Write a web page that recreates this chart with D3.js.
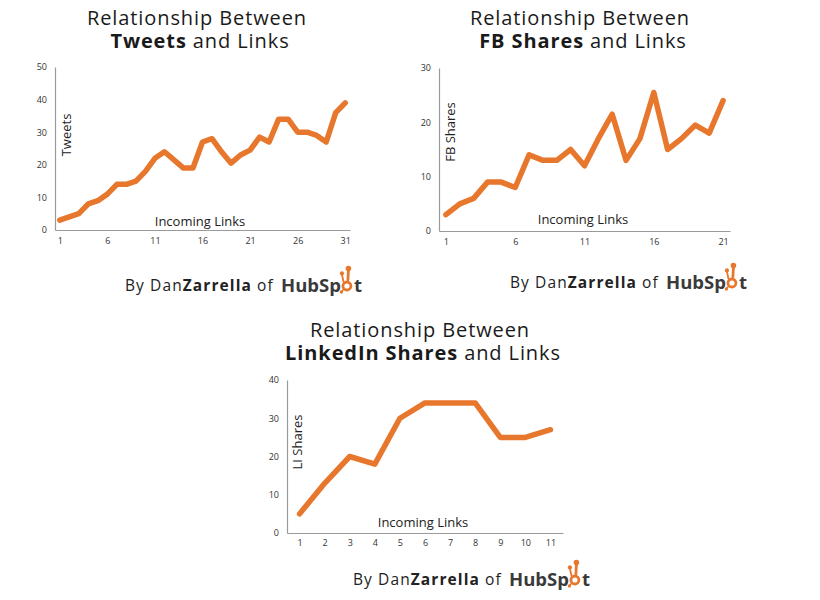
<!DOCTYPE html>
<html><head><meta charset="utf-8">
<script src="https://cdn.jsdelivr.net/npm/d3@7"></script>
<style>body{margin:0;background:#fff}svg{display:block}</style>
</head><body>
<svg id="c" width="820" height="600"></svg>
<script>
// ---- data ----
const tweetsLinks = [1,2,3,4,5,6,7,8,9,10,11,12,13,14,15,16,17,18,19,20,21,22,23,24,25,26,27,28,29,30,31];
const tweetsValues = [3,4,5,8,9,11,14,14,15,18,22,24,21.5,19,19,27,28,24,20.5,23,24.5,28.5,27,34,34,30,30,29,27,36,39];
const tweetsXTicks = [1,6,11,16,21,26,31];
const tweetsYTicks = [0,10,20,30,40,50];

const fbLinks = [1,2,3,4,5,6,7,8,9,10,11,12,13,14,15,16,17,18,19,20,21];
const fbValues = [3,5,6,9,9,8,14,13,13,15,12,17,21.5,13,17,25.5,15,17,19.5,18,24];
const fbXTicks = [1,6,11,16,21];
const fbYTicks = [0,10,20,30];

const liLinks = [1,2,3,4,5,6,7,8,9,10,11];
const liValues = [5,13,20,18,30,34,34,34,25,25,27];
const liXTicks = [1,2,3,4,5,6,7,8,9,10,11];
const liYTicks = [0,10,20,30,40];

const titleLine1 = "Relationship Between";
const credit = ["By Dan", "Zarrella", " of"];
const brand = ["HubSp", "t"];

const ORANGE = "#e8772e";
const FONT = "'Open Sans', 'DejaVu Sans', sans-serif";
const svg = d3.select("#c");

function panel(o) {
  const g = svg.append("g");
  const x = d3.scalePoint().domain(o.links).range([o.x0, o.x1]).padding(0.5);
  const y = d3.scaleLinear().domain([0, o.yMax]).range([o.yb, o.yt]);

  // title
  g.append("text").attr("x", o.tc).attr("y", o.ty).attr("text-anchor", "middle")
    .attr("font-family", FONT).attr("font-size", 20).attr("letter-spacing", 0.9).attr("fill", "#1a1a1a")
    .text(titleLine1);
  const t2 = g.append("text").attr("x", o.tc2).attr("y", o.ty + 22.5).attr("text-anchor", "middle")
    .attr("font-family", FONT).attr("font-size", 20).attr("letter-spacing", 0.9).attr("fill", "#1a1a1a");
  t2.append("tspan").attr("font-weight", 700).text(o.bold);
  t2.append("tspan").text(" and Links");

  // axes
  const ya = g.append("g").attr("transform", `translate(${o.x0},0)`)
    .call(d3.axisLeft(y).tickValues(o.yTicks).tickSize(0).tickPadding(8).tickSizeOuter(0));
  ya.select(".domain").attr("stroke", "#9a9a9a").attr("stroke-width", 1.2);
  ya.selectAll("text").attr("font-family", FONT).attr("font-size", 9).attr("fill", "#333");

  const xa = g.append("g").attr("transform", `translate(0,${o.yb})`)
    .call(d3.axisBottom(x).tickValues(o.xTicks).tickSize(0).tickPadding(o.xpad || 8).tickSizeOuter(0));
  xa.select(".domain").attr("stroke", "#9a9a9a").attr("stroke-width", 1.2);
  xa.selectAll("text").attr("font-family", FONT).attr("font-size", 9).attr("fill", "#333");

  // axis titles
  g.append("text").attr("transform", `translate(${o.ylx},${o.yly}) rotate(-90)`)
    .attr("text-anchor", "middle").attr("font-family", FONT).attr("font-size", 13).attr("fill", "#222")
    .text(o.yLabel);
  g.append("text").attr("x", o.xlx).attr("y", o.xly).attr("text-anchor", "middle")
    .attr("font-family", FONT).attr("font-size", 13).attr("fill", "#222").text("Incoming Links");

  // line
  const line = d3.line().x((d, i) => x(o.links[i])).y(d => y(d));
  g.append("path").datum(o.values).attr("d", line).attr("fill", "none")
    .attr("stroke", ORANGE).attr("stroke-width", 5.5).attr("stroke-linejoin", "round").attr("stroke-linecap", "round");

  // credit
  const c = g.append("text").attr("x", o.cx).attr("y", o.cy)
    .attr("font-family", FONT).attr("font-size", 15.5).attr("letter-spacing", 1.1).attr("fill", "#222");
  c.append("tspan").text(credit[0]);
  c.append("tspan").attr("font-weight", 700).text(credit[1]);
  c.append("tspan").text(credit[2]);
  const bx = o.cx + 156;
  const b = g.append("text").attr("x", bx).attr("y", o.cy + 1)
    .attr("font-family", FONT).attr("font-size", 18.5).attr("font-weight", 700).attr("fill", "#3a3a3a");
  b.append("tspan").text(brand[0]);
  const bw = b.node().getComputedTextLength();
  const ox = bx + bw + 6, oy = o.cy - 5;
  const s = g.append("g").attr("stroke", ORANGE).attr("fill", "none").attr("stroke-linecap", "round");
  s.append("circle").attr("cx", ox).attr("cy", oy).attr("r", 4).attr("stroke-width", 2.8);
  // stem + spokes with end dots
  [[1, -6, 1.5, -16, 2.8, 2.8], [-3.5, -4.5, -5, -11.5, 2.1, 1.8], [-3.8, 3.8, -5.5, 6, 1.7, 1.6]].forEach(([x1, y1, x2, y2, r, w]) => {
    s.append("line").attr("x1", ox + x1).attr("y1", oy + y1).attr("x2", ox + x2).attr("y2", oy + y2).attr("stroke-width", w);
    s.append("circle").attr("cx", ox + x2).attr("cy", oy + y2 - (y2 < 0 ? r * 0.5 : 0)).attr("r", r)
      .attr("fill", ORANGE).attr("stroke", "none");
  });
  b.append("tspan").attr("dx", 13).text(brand[1]);
}

panel({links: tweetsLinks, values: tweetsValues, xTicks: tweetsXTicks, yTicks: tweetsYTicks, yMax: 50,
  x0: 55, x1: 350, yb: 230, yt: 67, tc: 197, tc2: 200, ty: 25, bold: "Tweets", yLabel: "Tweets",
  ylx: 71, yly: 135, xlx: 200, xly: 226, cx: 125, cy: 291});
panel({links: fbLinks, values: fbValues, xTicks: fbXTicks, yTicks: fbYTicks, yMax: 30,
  x0: 439, x1: 730, yb: 231, yt: 68, tc: 580, tc2: 583, ty: 25, bold: "FB Shares", yLabel: "FB Shares",
  ylx: 455, yly: 132, xlx: 583, xly: 224, cx: 510, cy: 288});
panel({links: liLinks, values: liValues, xTicks: liXTicks, yTicks: liYTicks, yMax: 40,
  x0: 287, x1: 563, yb: 533, yt: 380, tc: 420, tc2: 423, ty: 337, bold: "LinkedIn Shares", yLabel: "LI Shares",
  ylx: 302, yly: 442, xlx: 423, xly: 527, cx: 353, cy: 585, xpad: 7});
</script>
</body></html>
